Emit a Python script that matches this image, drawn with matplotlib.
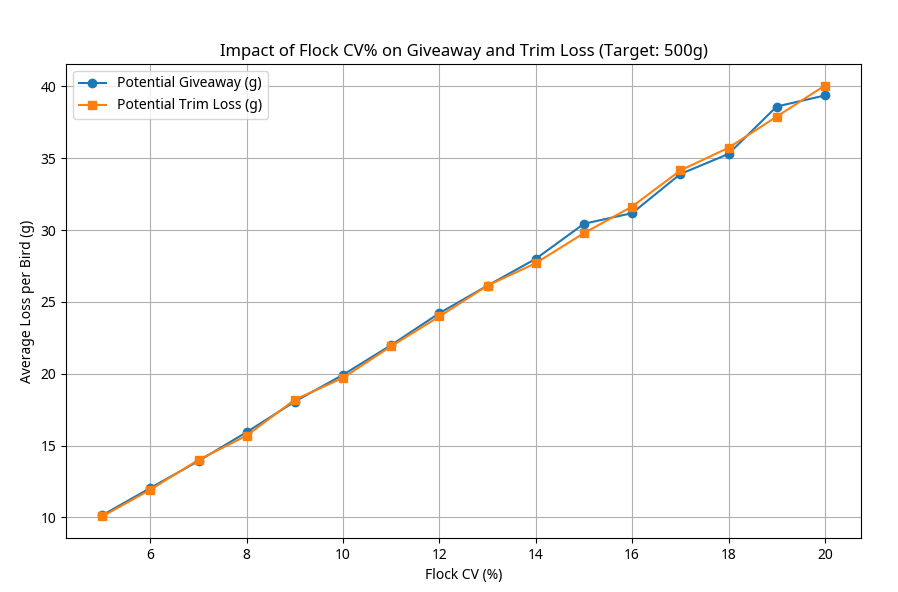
import numpy as np
import matplotlib
matplotlib.use("Agg")
import matplotlib.pyplot as plt

plt.rcParams['font.family'] = ['Noto Sans', 'DejaVu Sans']

# Flock CV (%) and average loss per bird (g)
cv = [5, 6, 7, 8, 9, 10, 11, 12, 13, 14, 15, 16, 17, 18, 19, 20]
giveaway = [10.15, 12.05, 13.93, 15.94, 18.07, 19.93, 22.0, 24.22, 26.14, 28.0,
            30.44, 31.18, 33.9, 35.3, 38.6, 39.37]
trim_loss = [10.07, 11.93, 14.01, 15.7, 18.2, 19.72, 21.92, 23.99, 26.14, 27.7,
             29.79, 31.64, 34.15, 35.73, 37.9, 40.06]

fig = plt.figure(figsize=(8.98, 5.92), dpi=100)
ax = fig.add_axes([0.0735, 0.0912, 0.8853, 0.8007])

ax.plot(cv, giveaway, marker='o', label='Potential Giveaway (g)')
ax.plot(cv, trim_loss, marker='s', label='Potential Trim Loss (g)')

ax.set_title('Impact of Flock CV% on Giveaway and Trim Loss (Target: 500g)')
ax.set_xlabel('Flock CV (%)')
ax.set_ylabel('Average Loss per Bird (g)')
ax.set_xticks(np.arange(6, 21, 2))
ax.grid(True)
ax.legend(loc='upper left')

fig.savefig('out.png', dpi=100)
